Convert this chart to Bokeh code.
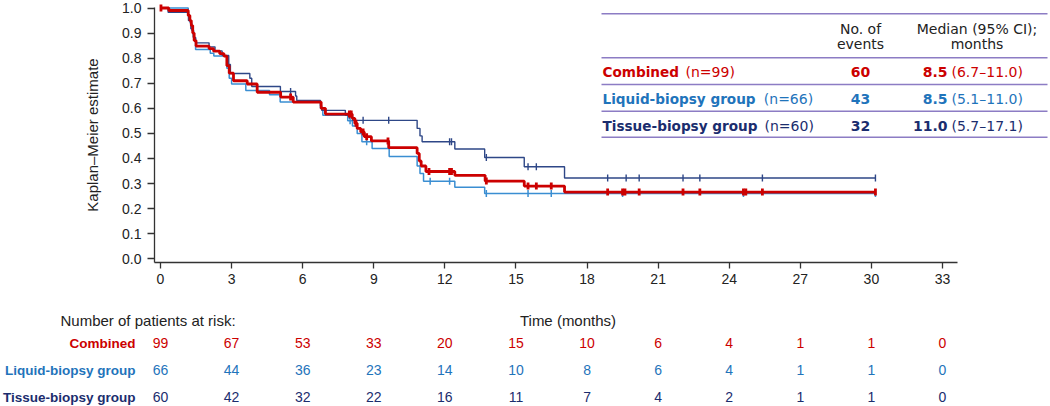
import numpy as np
from bokeh.plotting import figure
from bokeh.models import Range1d, FixedTicker, NumeralTickFormatter, LinearAxis
from bokeh.core.properties import value
from bokeh.embed import file_html
from bokeh.resources import INLINE

# ---------------- data ----------------
x_ticks = [0, 3, 6, 9, 12, 15, 18, 21, 24, 27, 30, 33]
y_ticks = [0.0, 0.1, 0.2, 0.3, 0.4, 0.5, 0.6, 0.7, 0.8, 0.9, 1.0]

comb_t = [0, 0.35, 1.17, 1.24, 1.30, 1.36, 1.42, 1.50, 2.05, 2.24, 2.50, 2.68, 2.80, 2.90,
          3.08, 3.66, 4.08, 5.07, 5.60, 6.78, 6.96, 8.09, 8.20, 8.30, 8.45, 8.60, 8.90,
          9.63, 10.83, 10.92, 11.00, 11.20, 12.42, 13.70, 15.35, 17.05]
comb_s = [1.0, 0.99, 0.97, 0.95, 0.93, 0.90, 0.87, 0.848, 0.838, 0.828, 0.818, 0.808, 0.77, 0.74,
          0.71, 0.697, 0.664, 0.645, 0.625, 0.60, 0.577, 0.56, 0.54, 0.52, 0.506, 0.487, 0.47,
          0.443, 0.42, 0.39, 0.37, 0.348, 0.333, 0.31, 0.29, 0.266]
comb_end = 30.17
comb_cens = [0.02, 5.49, 7.97, 8.05, 8.25, 8.55, 8.70, 9.60, 11.33, 12.20, 12.28, 13.75, 15.51,
             15.86, 16.49, 18.87, 19.50, 19.60, 20.20, 22.05, 22.76, 24.60, 24.70, 25.40, 30.17]

liq_t = [0, 1.17, 1.25, 1.32, 1.40, 1.48, 2.10, 2.25, 2.80, 2.90, 3.00, 3.60, 4.60, 5.05,
         6.75, 6.85, 7.90, 8.10, 8.30, 8.50, 8.93, 9.65, 10.83, 10.95, 11.10, 12.42, 13.68]
liq_s = [1.0, 0.97, 0.94, 0.91, 0.88, 0.835, 0.82, 0.809, 0.76, 0.72, 0.697, 0.671, 0.654, 0.625,
         0.60, 0.572, 0.55, 0.53, 0.50, 0.467, 0.44, 0.408, 0.37, 0.34, 0.309, 0.285, 0.26]
liq_end = 30.17
liq_cens = [8.0, 8.7, 11.38, 12.2, 13.75, 15.51, 16.49, 19.5, 24.6, 30.17]

tis_t = [0, 0.32, 1.18, 1.28, 1.38, 1.48, 2.05, 2.30, 2.60, 2.88, 2.95, 3.77, 3.85, 5.06,
         5.70, 5.75, 6.75, 6.80, 7.80, 8.10, 10.83, 10.95, 11.04, 12.42, 13.68, 15.35, 17.05]
tis_s = [1.0, 0.983, 0.95, 0.917, 0.883, 0.861, 0.845, 0.829, 0.811, 0.775, 0.739, 0.72, 0.687,
         0.667, 0.649, 0.631, 0.61, 0.592, 0.572, 0.552, 0.52, 0.49, 0.467, 0.438, 0.404, 0.367, 0.322]
tis_end = 30.17
tis_cens = [5.49, 7.97, 8.55, 9.63, 12.20, 12.28, 13.75, 15.51, 15.86, 18.87, 19.65, 20.20,
            22.05, 22.76, 25.40, 30.17]

risk_times = [0, 3, 6, 9, 12, 15, 18, 21, 24, 27, 30, 33]
risk_comb = [99, 67, 53, 33, 20, 15, 10, 6, 4, 1, 1, 0]
risk_liq = [66, 44, 36, 23, 14, 10, 8, 6, 4, 1, 1, 0]
risk_tis = [60, 42, 32, 22, 16, 11, 7, 4, 2, 1, 1, 0]

group_names = ["Combined", "Liquid-biopsy group", "Tissue-biopsy group"]
group_n = ["(n=99)", "(n=66)", "(n=60)"]
group_events = ["60", "43", "32"]
group_median = ["8.5", "8.5", "11.0"]
group_ci = ["(6.7\u201311.0)", "(5.1\u201311.0)", "(5.7\u201317.1)"]

# ---------------- styles / geometry ----------------
RED = "#cc0000"
LIQ_TXT, LIQ_LINE = "#1f74bb", "#3a8ed2"
TIS_TXT, TIS_LINE = "#1b2d6e", "#2e4787"
TXT_COLORS = [RED, LIQ_TXT, TIS_TXT]
PURPLE = "#8c7cc4"
AX = "#333333"
DARK = "#222222"

W, H = 1050, 406
PX_T0, PX_PER_T = 160.0, 23.697     # pixel of t=0, pixels per month
PY_S0, PY_PER_S = 258.3, 250.8      # pixel of S=0, pixels per unit survival


def xd(px):
    return (px - PX_T0) / PX_PER_T


def yd(py):
    return (PY_S0 - py) / PY_PER_S


p = figure(width=W, height=H, x_range=Range1d(xd(0), xd(W)), y_range=Range1d(yd(H), yd(0)),
           x_axis_type=None, y_axis_type=None, output_backend="svg", toolbar_location=None,
           min_border=0)
p.outline_line_color = None
p.grid.visible = False
p.background_fill_color = "white"
p.border_fill_color = "white"

xaxis = LinearAxis(ticker=FixedTicker(ticks=x_ticks), fixed_location=yd(261.7),
                   bounds=(xd(154), xd(957)))
yaxis = LinearAxis(ticker=FixedTicker(ticks=y_ticks), formatter=NumeralTickFormatter(format="0.0"),
                   fixed_location=xd(154), bounds=(yd(261.7), yd(6.5)))
p.add_layout(xaxis, "below")
p.add_layout(yaxis, "left")
for ax in (xaxis, yaxis):
    ax.axis_line_color = AX
    ax.axis_line_width = 1.3
    ax.major_tick_line_color = AX
    ax.major_tick_line_width = 1.3
    ax.major_tick_in = 0
    ax.minor_tick_line_color = None
    ax.major_label_text_font = "Liberation Sans"
    ax.major_label_text_font_size = "14px"
    ax.major_label_text_color = DARK
xaxis.major_tick_out = 6
yaxis.major_tick_out = 7
xaxis.major_label_standoff = 6
yaxis.major_label_standoff = 6
yaxis.axis_label = "Kaplan\u2013Meier estimate"
yaxis.axis_label_text_font = "Liberation Sans"
yaxis.axis_label_text_font_size = "15px"
yaxis.axis_label_text_font_style = "normal"
yaxis.axis_label_text_color = DARK
yaxis.axis_label_standoff = 18


def km(ts, ss, end):
    return list(ts) + [end], list(ss) + [ss[-1]]


def s_at(ts, ss, tc):
    idx = np.searchsorted(np.array(ts), np.array(tc), side="right") - 1
    return [ss[i] for i in idx]


series = [
    (liq_t, liq_s, liq_end, liq_cens, LIQ_LINE, 1.5),
    (tis_t, tis_s, tis_end, tis_cens, TIS_LINE, 1.4),
    (comb_t, comb_s, comb_end, comb_cens, RED, 2.8),
]
for ts, ss, end, cens, col, lw in series:
    xs, ys = km(ts, ss, end)
    p.step(x=xs, y=ys, mode="after", line_color=col, line_width=lw)
    p.scatter(x=cens, y=s_at(ts, ss, cens), marker="dash", angle=np.pi / 2, size=7,
              line_color=col, line_width=lw)


def txt(x, y, t, color=DARK, font="Liberation Sans", size="14px", style="normal",
        align="left"):
    p.text(x=x, y=y, text=t, text_color=color, text_font=value(font), text_font_size=size,
           text_font_style=style, text_align=align, text_baseline="middle")


# ---------------- risk table ----------------
txt([xd(60)], [yd(320)], ["Number of patients at risk:"], size="15px")
txt([xd(567.5)], [yd(320)], ["Time (months)"], size="15px", align="center")
row_py = [342.7, 369.5, 396.5]
for name, counts, col, py in zip(group_names, [risk_comb, risk_liq, risk_tis], TXT_COLORS, row_py):
    txt([xd(135)], [yd(py)], [name], color=col, size="13.5px", style="bold", align="right")
    txt(risk_times, [yd(py)] * len(risk_times), [str(c) for c in counts], color=col,
        align="center")

# ---------------- summary table ----------------
line_py = [13.3, 57.3, 84, 110.7, 136.7]
p.segment(x0=[xd(601)] * len(line_py), x1=[xd(1047)] * len(line_py),
          y0=[yd(v) for v in line_py], y1=[yd(v) for v in line_py],
          line_color=PURPLE, line_width=1.6)

TF = "DejaVu Sans"
txt([xd(860), xd(860)], [yd(28.5), yd(43.5)], ["No. of", "events"], font=TF, align="center")
txt([xd(976.5), xd(976.5)], [yd(28.5), yd(43.5)], ["Median (95% CI);", "months"], font=TF,
    align="center")

tab_py = [71.5, 98.5, 125]
n_px = [685, 763.3, 764]
for name, n, ev, med, ci, col, py, npx in zip(group_names, group_n, group_events, group_median,
                                               group_ci, TXT_COLORS, tab_py, n_px):
    txt([xd(602)], [yd(py)], [name], color=col, font=TF, size="13.6px", style="bold")
    txt([xd(npx)], [yd(py)], [n], color=col, font=TF)
    txt([xd(860)], [yd(py)], [ev], color=col, font=TF, style="bold", align="center")
    txt([xd(947)], [yd(py)], [med], color=col, font=TF, style="bold", align="right")
    txt([xd(951)], [yd(py)], [ci], color=col, font=TF)

open("out.html", "w").write(file_html(p, INLINE))
